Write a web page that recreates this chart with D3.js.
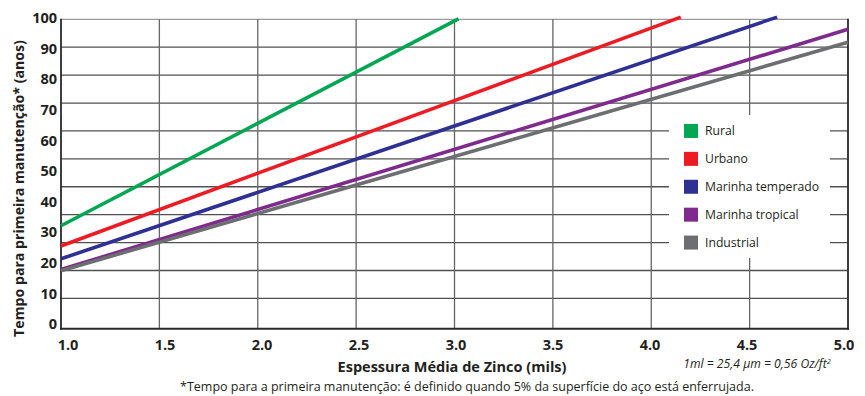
<!DOCTYPE html>
<html>
<head>
<meta charset="utf-8">
<script src="https://cdn.jsdelivr.net/npm/d3@7"></script>
<style>
  html, body { margin: 0; padding: 0; background: #fff; }
  svg { display: block; }
  text { font-family: "Open Sans", "Noto Sans", sans-serif; fill: #231f20; }
</style>
</head>
<body>
<svg id="chart" width="865" height="396"></svg>
<script>
// ---- data ----
const categories = ["Rural", "Urbano", "Marinha temperado", "Marinha tropical", "Industrial"];
const colors = ["#00a651", "#ed1c24", "#2e3192", "#7f2b8e", "#6d6e71"];
const startThickness = [1.0, 1.0, 1.0, 1.0, 1.0];
const endThickness = [3.02, 4.15, 4.64, 5.0, 5.0];
const startYears = [32.1, 25.5, 21.3, 17.8, 17.4];
const endYears = [99.7, 100.3, 100.3, 96.3, 92.1];
const yTickLabels = [0, 10, 20, 30, 40, 50, 60, 70, 80, 90, 100];
const xTickLabels = ["1.0", "1.5", "2.0", "2.5", "3.0", "3.5", "4.0", "4.5", "5.0"];
const xTickValues = [1.0, 1.5, 2.0, 2.5, 3.0, 3.5, 4.0, 4.5, 5.0];
const xGridValues = [1.5, 2.0, 2.5, 3.0, 3.5, 4.0, 4.5];
const gridRows = d3.range(0, 11);
const xTitle = "Espessura Média de Zinco (mils)";
const yTitle = "Tempo para primeira manutenção* (anos)";
const footnote = "*Tempo para a primeira manutenção: é definido quando 5% da superfície do aço está enferrujada.";

// ---- scales ----
const svg = d3.select("#chart");
const x = d3.scaleLinear().domain([1, 5]).range([61, 848]);
const xLabel = d3.scaleLinear().domain([1, 5]).range([68, 844]);
const y = d3.scaleLinear().domain([0, 100]).range([324, 18]);
const yGrid = d3.scaleLinear().domain([0, 10]).range([298.4, 19.3]);
const yBottom = 328.7, yTop = 19.3;

function fit(sel, target) {
  const n = sel.node();
  const fs = parseFloat(sel.attr("font-size"));
  const w = n.getComputedTextLength();
  if (w > 0) sel.attr("font-size", (fs * target / w).toFixed(2));
}

// ---- grid ----
const g = svg.append("g");
g.selectAll("line.h").data(gridRows).join("line")
  .attr("x1", x(1)).attr("x2", x(5))
  .attr("y1", d => yGrid(d)).attr("y2", d => yGrid(d))
  .attr("stroke", d => (d === 10 ? "#9a9a9a" : "#505050"))
  .attr("stroke-width", 1.3);
g.selectAll("line.v").data(xGridValues).join("line")
  .attr("x1", d => x(d)).attr("x2", d => x(d))
  .attr("y1", yTop).attr("y2", yBottom)
  .attr("stroke", "#666").attr("stroke-width", 1.3);

// axes frame
g.append("line").attr("x1", x(1)).attr("x2", x(1)).attr("y1", yTop - 0.5).attr("y2", yBottom + 1)
  .attr("stroke", "#2a2a2a").attr("stroke-width", 1.8);
g.append("line").attr("x1", x(5)).attr("x2", x(5)).attr("y1", yTop - 0.5).attr("y2", yBottom + 1)
  .attr("stroke", "#2a2a2a").attr("stroke-width", 1.8);
g.append("line").attr("x1", x(1) - 1).attr("x2", x(5) + 1).attr("y1", yBottom).attr("y2", yBottom)
  .attr("stroke", "#2a2a2a").attr("stroke-width", 2);

// ---- series ----
const series = categories.map((c, i) => ({
  name: c, color: colors[i],
  pts: [[startThickness[i], startYears[i]], [endThickness[i], endYears[i]]]
}));
const line = d3.line().x(d => x(d[0])).y(d => y(d[1]));
svg.append("g").selectAll("path").data(series).join("path")
  .attr("d", d => line(d.pts))
  .attr("fill", "none").attr("stroke", d => d.color)
  .attr("stroke-width", 3.6);

// ---- legend ----
const lg = svg.append("g");
lg.append("rect").attr("x", 669).attr("y", 115).attr("width", 161).attr("height", 143).attr("fill", "#fff");
const items = lg.selectAll("g.item").data(series).join("g")
  .attr("transform", (d, i) => `translate(684, ${yGrid(6 - i)})`);
items.append("rect").attr("x", 0).attr("y", -7).attr("width", 14).attr("height", 14)
  .attr("fill", d => d.color);
items.append("text").attr("x", 21).attr("y", 0).attr("dy", "0.35em")
  .attr("font-size", 12.5).text(d => d.name);
fit(items.filter((d, i) => i === 2).select("text"), 114);
const lfs = items.filter((d, i) => i === 2).select("text").attr("font-size");
items.selectAll("text").attr("font-size", lfs);

// ---- tick labels ----
svg.append("g").selectAll("text").data(yTickLabels).join("text")
  .attr("x", 57).attr("y", d => y(d)).attr("dy", "0.36em")
  .attr("text-anchor", "end").attr("font-weight", "bold").attr("font-size", 14.5)
  .text(d => d);
svg.append("g").selectAll("text").data(xTickValues).join("text")
  .attr("x", d => xLabel(d)).attr("y", 345).attr("dy", "0.36em")
  .attr("text-anchor", "middle").attr("font-weight", "bold").attr("font-size", 14.5)
  .text((d, i) => xTickLabels[i]);

// ---- titles ----
const xt = svg.append("text").attr("x", 452).attr("y", 367).attr("dy", "0.36em")
  .attr("text-anchor", "middle").attr("font-weight", "bold").attr("font-size", 14)
  .text(xTitle);
fit(xt, 229);
const yt = svg.append("text").attr("transform", "translate(19,188.5) rotate(-90)")
  .attr("dy", "0.36em").attr("text-anchor", "middle")
  .attr("font-weight", "bold").attr("font-size", 13.5).text(yTitle);
fit(yt, 297);

const note = svg.append("text").attr("x", 757).attr("y", 363.5).attr("dy", "0.36em")
  .attr("text-anchor", "middle").attr("font-style", "italic").attr("font-size", 11.5);
note.append("tspan").text("1ml = 25,4 μm = 0,56 Oz/ft");
note.append("tspan").attr("font-size", 7.5).attr("dy", "-0.55em").text("2");
fit(note, 148);

const fn = svg.append("text").attr("x", 467).attr("y", 386.5).attr("dy", "0.36em")
  .attr("text-anchor", "middle").attr("font-size", 12).text(footnote);
fit(fn, 574);
</script>
</body>
</html>
